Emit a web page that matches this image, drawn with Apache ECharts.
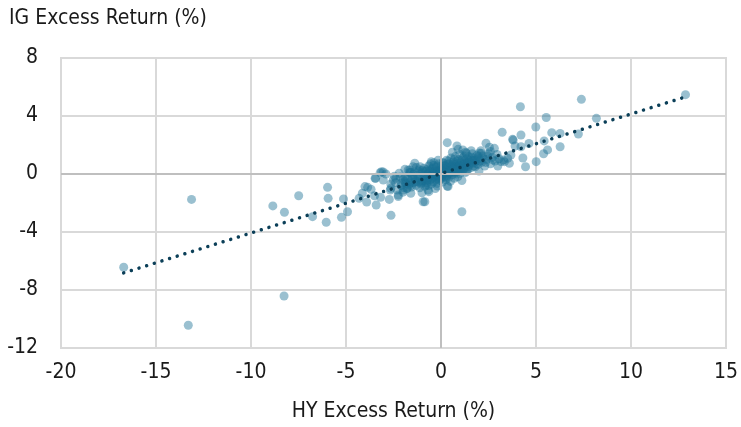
<!DOCTYPE html>
<html>
<head>
<meta charset="utf-8">
<script src="https://cdn.jsdelivr.net/npm/echarts@6/dist/echarts.min.js"></script>
<style>html,body{margin:0;padding:0;background:#fff}#c{width:741px;height:427px}</style>
</head>
<body>
<div id="c"></div>
<script>
const xAxisTitle = 'HY Excess Return (%)';
const yAxisTitle = 'IG Excess Return (%)';
const xRange = [-20, 15, 5];
const yRange = [-12, 8, 4];

// Scatter points [HY, IG]
const outlierPoints = [
  [-16.7,-6.43],[-13.13,-1.75],[-13.3,-10.43],[-8.26,-8.41],[-8.85,-2.2],[-8.24,-2.64],[-7.49,-1.5],
  [-5.97,-0.92],[-5.94,-1.68],[-6.76,-2.94],[-6.04,-3.33],[-5.13,-1.72],[-5.24,-2.99],[-4.92,-2.6],
  [-4.31,-1.68],[-4.14,-1.33],[-4.0,-0.87],[-3.86,-0.92],[-3.68,-1.06],[-3.91,-1.93],[-3.41,-2.14],
  [-3.18,-1.61],[-3.44,-0.30],[-3.2,0.09],[-3.04,0.14],[-2.63,-2.85],[-2.72,-1.75],[-2.67,-1.10],
  [-2.64,-0.69],[-2.37,-0.30],[-2.25,-1.45],[-1.99,-1.1],[-1.9,-0.53],[-1.73,0.28],[-1.47,0.5],
  [-1.59,-1.33],[-0.85,-1.91],[-0.64,-1.22],[-0.19,-0.83],[0.33,-0.83],[0.33,2.16],[0.84,1.93],
  [1.1,-2.6],[-1.38,0.74]
];
const rightPoints = [
  [4.18,4.64],[7.39,5.15],[5.54,3.9],[4.99,3.24],[3.22,2.88],[4.21,2.69],[3.8,2.34],[5.83,2.85],
  [6.27,2.8],[7.23,2.76],[8.18,3.84],[6.27,1.88],[5.43,2.28],[5.61,1.66],[5.4,1.4],[5.01,0.85],
  [4.63,2.1],[4.31,1.1],[4.45,0.5],[4.21,1.88],[3.68,1.31],[3.51,1.08],[3.3,0.97],[12.87,5.47],
  [2.37,2.12],[3.34,0.85]
];
const clusterPoints = [
  [-2.1,-0.8],[-2.0,-0.4],[-1.95,-0.95],[-1.9,-0.2],[-1.85,-0.65],[-1.8,-1.0],[-1.75,-0.3],[-1.7,-0.75],
  [-1.65,0.1],[-1.6,-0.5],[-1.55,-0.9],[-1.5,-0.2],[-1.45,-0.6],[-1.4,0.15],[-1.35,-0.4],[-1.3,-0.8],
  [-1.25,-0.1],[-1.2,-0.55],[-1.15,0.3],[-1.1,-0.3],[-1.05,-0.7],[-1.0,0.05],[-0.95,-0.45],[-0.9,0.4],
  [-0.88,-0.15],[-0.85,-0.85],[-0.8,-0.35],[-0.78,0.2],[-0.75,-0.6],[-0.7,0.0],[-0.68,-0.25],[-0.65,0.55],
  [-0.6,-0.5],[-0.58,0.15],[-0.55,-0.1],[-0.5,-0.7],[-0.48,0.35],[-0.45,-0.3],[-0.42,0.05],[-0.4,-0.55],
  [-0.38,0.6],[-0.35,-0.15],[-0.3,0.2],[-0.28,-0.4],[-0.25,0.45],[-0.22,-0.05],[-0.2,-0.65],[-0.18,0.25],
  [-0.15,-0.25],[-0.12,0.7],[-0.1,0.1],[-0.08,-0.45],[-0.05,0.35],[-0.03,-0.1],[0.0,0.5],[0.02,-0.3],
  [0.05,0.15],[0.08,-0.55],[0.1,0.8],[0.12,0.0],[0.15,0.4],[0.18,-0.2],[0.2,0.6],[0.22,0.1],
  [0.25,-0.4],[0.28,0.3],[0.3,0.95],[0.32,-0.1],[0.35,0.5],[0.38,0.2],[0.4,-0.25],[0.42,0.7],
  [0.45,0.05],[0.48,0.4],[0.5,-0.5],[0.52,1.1],[0.55,0.25],[0.58,0.6],[0.6,-0.05],[0.62,0.45],
  [0.65,0.85],[0.68,0.15],[0.7,-0.3],[0.72,0.55],[0.75,1.2],[0.78,0.3],[0.8,0.0],[0.82,0.7],
  [0.85,0.4],[0.88,-0.2],[0.9,1.0],[0.92,0.2],[0.95,0.6],[0.98,0.35],[1.0,1.35],[1.02,0.05],
  [1.05,0.8],[1.08,0.5],[1.1,-0.45],[1.12,0.25],[1.15,1.1],[1.18,0.65],[1.2,0.4],[1.25,0.9],
  [1.28,0.1],[1.3,1.5],[1.35,0.55],[1.4,0.8],[1.42,0.3],[1.45,1.2],[1.5,0.65],[1.55,1.0],
  [1.6,0.45],[1.65,1.4],[1.7,0.75],[1.75,1.1],[1.8,0.5],[1.85,0.9],[1.9,1.3],[1.95,0.65],
  [2.0,1.05],[2.1,1.6],[2.15,0.8],[2.2,1.25],[2.3,0.55],[2.4,1.0],[2.5,1.4],[2.6,0.7],
  [2.7,1.15],[2.85,0.9],[2.95,1.35],[3.05,1.05],[2.55,1.85],[2.81,1.77],[3.77,2.39],[3.9,1.93],
  [3.6,0.74],[2.99,0.55],[3.16,0.85],[2.72,0.97],[2.11,1.43],[1.59,1.61],[1.33,1.43],[1.15,1.66],
  [0.37,-0.87],[-0.37,0.78],[-0.51,0.85],[-0.68,-1.1],[-0.94,-1.91],[-1.56,-0.76],[-1.64,0.28],[-1.9,0.32],
  [-1.77,-0.99],[-2.08,-0.64],[-2.39,-0.6],[-2.51,-0.41],[-2.64,-0.99],[-3.04,-0.41],[-3.13,0.16],[-3.47,-0.3],
  [-3.5,-1.5],[-2.25,-1.56],[-1.1,0.5],[-1.6,0.1],[-2.2,0.05],[-2.45,-0.15],[-2.9,0.0],[-2.3,-1.1],
  [-1.0,-1.3],[-0.3,-1.0],[0.6,1.5],[0.9,1.7],[2.0,0.2],[-1.2,0.2],[-0.9,-0.1],[-0.6,0.25],
  [-0.3,-0.2],[0.05,0.0],[0.3,0.3],[0.55,0.1],[0.8,0.55],[1.05,0.35],[1.3,0.6],[-1.4,-0.25],
  [-0.7,-0.4],[-0.1,-0.15],[0.45,0.25],[0.7,0.3],[-1.0,-0.5],[-0.45,0.1],[0.2,0.2],[1.5,0.9],
  [-1.85,-0.35],[-1.62,-0.62],[-1.48,-0.05],[-1.32,-0.52],[-1.18,-0.2],[-1.02,-0.62],[-0.92,0.15],[-0.83,-0.5],
  [-0.72,0.32],[-0.62,-0.15],[-0.52,-0.38],[-0.43,0.42],[-0.33,-0.05],[-0.24,0.18],[-0.16,-0.35],[-0.07,0.22],
  [0.01,0.33],[0.09,-0.12],[0.17,0.55],[0.26,0.05],[0.34,0.68],[0.43,0.12],[0.51,0.52],[0.59,0.32],
  [0.67,0.68],[0.76,0.12],[0.84,0.88],[0.93,0.45],[1.01,0.72],[1.1,0.95],[1.19,0.3],[1.27,0.75],
  [1.36,1.05],[1.44,0.5],[1.53,0.78],[1.62,1.15],[1.71,0.55],[1.79,0.95],[1.88,0.7],[1.97,1.2],
  [2.06,0.9],[2.25,1.05],[2.35,0.8],[2.45,1.25],[-1.12,-0.95],[-0.78,-0.78],[-0.55,0.7],[-0.2,0.55],
  [0.15,0.75],[0.4,0.9],[0.7,1.0],[-1.3,0.45],[-0.98,0.25],[-0.66,-0.8],[0.27,-0.25],[0.86,0.22],
  [1.22,1.25],[1.68,0.95],[2.02,1.45],[2.6,1.55],[-2.15,-0.2],[-2.0,-1.25],[-0.15,0.95],[1.35,0.2]
];
// Trend line end points [HY, IG]
const trendPoints = [[-16.7,-6.82],[12.9,5.33]];

const font = "'Liberation Sans Narrow','DejaVu Sans Condensed',sans-serif";
const chart = echarts.init(document.getElementById('c'));
chart.setOption({
  animation: false,
  title: { text: yAxisTitle, left: 4, top: 3,
    textStyle: { fontFamily: font, fontSize: 21, fontWeight: 'normal', color: '#1a1a1a' } },
  grid: { left: 61, right: 12, top: 58, bottom: 79, show: true, borderColor: '#d9d9d9', borderWidth: 2 },
  xAxis: {
    type: 'value', min: xRange[0], max: xRange[1], interval: xRange[2],
    name: xAxisTitle, nameLocation: 'middle', nameGap: 53,
    nameTextStyle: { fontFamily: font, fontSize: 21, color: '#1a1a1a' },
    axisLine: { show: false, onZero: false }, axisTick: { show: false },
    axisLabel: { fontFamily: font, fontSize: 21, color: '#1a1a1a', margin: 14 },
    splitLine: { lineStyle: { color: '#d9d9d9', width: 2 } }
  },
  yAxis: {
    type: 'value', min: yRange[0], max: yRange[1], interval: yRange[2],
    axisLine: { show: false, onZero: false }, axisTick: { show: false },
    axisLabel: { fontFamily: font, fontSize: 21, color: '#1a1a1a', margin: 23 },
    splitLine: { lineStyle: { color: '#d9d9d9', width: 2 } }
  },
  series: [
    {
      type: 'line', data: [], z: 1, silent: true,
      markLine: {
        silent: true, symbol: 'none', label: { show: false },
        lineStyle: { color: '#bfbfbf', type: 'solid', width: 2 },
        data: [{ xAxis: 0 }, { yAxis: 0 }]
      }
    },
    {
      type: 'scatter', symbolSize: 9, z: 3,
      data: outlierPoints.concat(rightPoints, clusterPoints),
      itemStyle: { color: '#1a6f93', opacity: 0.44 }
    },
    {
      type: 'line', data: trendPoints, showSymbol: false, z: 5,
      lineStyle: { color: '#0b3f58', width: 3.5, type: [0.01, 8], cap: 'round' }
    }
  ]
});
</script>
</body>
</html>
